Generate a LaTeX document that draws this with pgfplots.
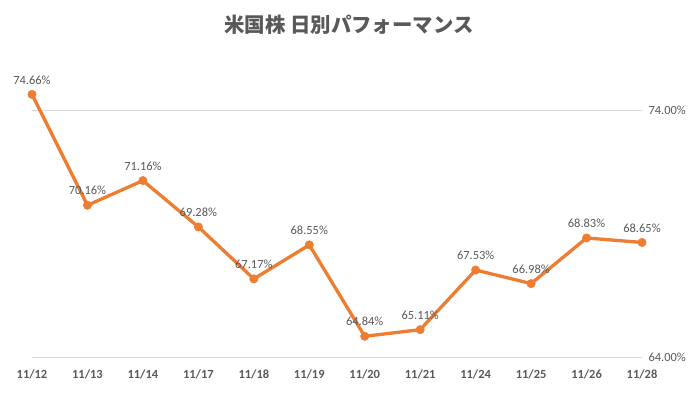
\documentclass[border=0pt]{standalone}
\usepackage{pgfplots}
\pgfplotsset{compat=1.18}
\usepackage{fontspec}
\setmainfont{Carlito}
\newfontfamily\cjk{Noto Sans CJK JP}
\definecolor{lineorange}{HTML}{ED7D31}
\definecolor{txtgray}{HTML}{595959}
\definecolor{gridgray}{HTML}{D9D9D9}
\begin{document}
\begin{tikzpicture}[x=1bp,y=1bp]
\useasboundingbox (0,0) rectangle (698,392);
\node[text=txtgray, font=\cjk\bfseries\fontsize{20.5}{24}\selectfont] at (349,367) {米国株 日別パフォーマンス};
\begin{axis}[
  at={(32bp,35bp)}, anchor=south west,
  scale only axis, width=610bp, height=271bp,
  xmin=0, xmax=11, ymin=64, ymax=75,
  axis line style={draw=none},
  ytick={64,74}, yticklabel pos=right,
  ymajorgrids, grid style={gridgray, line width=0.8pt},
  xtick={0,...,11},
  xticklabels={11/12,11/13,11/14,11/17,11/18,11/19,11/20,11/21,11/24,11/25,11/26,11/28},
  xticklabel style={font=\bfseries\fontsize{12.5}{14}\selectfont, text=txtgray, yshift=-9bp},
  yticklabel style={font=\fontsize{12.5}{14}\selectfont, text=txtgray, xshift=3bp},
  yticklabel={\pgfmathprintnumber[fixed,fixed zerofill,precision=2]{\tick}\%},
  /pgf/number format/assume math mode=true,
  major tick length=0pt,
  clip=false,
  nodes near coords={\pgfmathprintnumber[fixed,fixed zerofill,precision=2]{\pgfplotspointmeta}\%},
  every node near coord/.style={anchor=south, yshift=9bp, inner sep=1pt, text=txtgray, font=\fontsize{12.5}{14}\selectfont},
]
\addplot[lineorange, line width=3.3bp, mark=*, mark size=4.2bp, mark options={fill=lineorange, draw=lineorange, line width=0.5bp}] coordinates {
(0,74.66) (1,70.16) (2,71.16) (3,69.28) (4,67.17) (5,68.55)
(6,64.84) (7,65.11) (8,67.53) (9,66.98) (10,68.83) (11,68.65)
};
\end{axis}
\end{tikzpicture}
\end{document}
